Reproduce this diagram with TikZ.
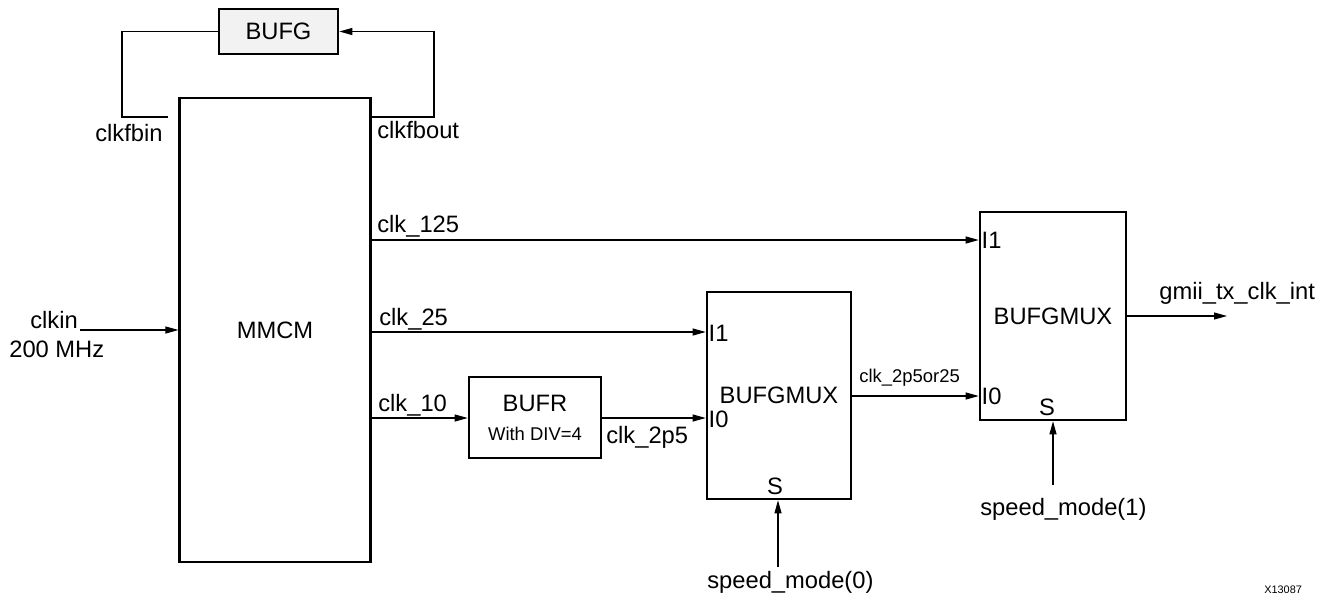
\documentclass[tikz,border=0pt]{standalone}
\usepackage{fontspec}
\setmainfont{Liberation Sans}
\usepackage{tikz}
\usetikzlibrary{arrows.meta,positioning}

\begin{document}
\begin{tikzpicture}[
    x=0.02cm, y=-0.02cm,
    font=\fontsize{13.5}{13.5}\selectfont,
    blk/.style={draw, line width=1.5pt, inner sep=0pt, align=center},
    wire/.style={line width=0.6pt},
    sig/.style={wire, -{Triangle[length=2.6mm,width=1.4mm]}},
    lbl/.style={inner sep=0pt, anchor=base west},
    port/.style={inner sep=1.5pt},
    small/.style={font=\fontsize{10.5}{12}\selectfont}
  ]
    \useasboundingbox (0,0) rectangle (1328,596);

    % blocks
    \node[blk, fill=black!5, minimum width=2.38cm, minimum height=0.9cm] (bufg) at (278.5,31.5) {BUFG};
    \node[blk, minimum width=3.81cm, minimum height=9.28cm] (mmcm) at (275,330) {MMCM};
    \node[blk, minimum width=2.64cm, minimum height=1.62cm] (bufr) at (535,417.5)
        {BUFR\\[3pt]{\fontsize{10.5}{12}\selectfont With DIV=4}};
    \node[blk, minimum width=2.88cm, minimum height=4.14cm] (mux1) at (779,395.5) {BUFGMUX};
    \node[blk, minimum width=2.92cm, minimum height=4.16cm] (mux2) at (1053,316) {BUFGMUX};

    % ports
    \node[port, anchor=west] (m1i1) at (mux1.west |- 0,333) {I1};
    \node[port, anchor=west] (m1i0) at (mux1.west |- 0,419) {I0};
    \node[inner sep=0pt, anchor=base] (m1s) at (775,494) {S};
    \node[port, anchor=west] (m2i1) at (mux2.west |- 0,240) {I1};
    \node[port, anchor=west] (m2i0) at (mux2.west |- 0,396) {I0};
    \node[inner sep=0pt, anchor=base] (m2s) at (1047,415) {S};

    % free ends
    \coordinate (fbin) at (168,117);
    \coordinate (fbinc) at (122,117);
    \coordinate (fbout) at (434,117);
    \coordinate (clkin) at (80,330);
    \coordinate (gout) at (1227,316);
    \coordinate (spd0) at (778,567);
    \coordinate (spd1) at (1053,485);

    % connections
    \draw[wire] (bufg.west) -| (fbinc) -- (fbin);
    \draw[sig] (mmcm.east |- fbout) -- (fbout) |- (bufg.east);
    \draw[sig] (clkin) -- (clkin -| mmcm.west);
    \draw[sig] (mmcm.east |- 0,240) -- (mux2.west |- 0,240);
    \draw[sig] (mmcm.east |- 0,332) -- (mux1.west |- 0,332);
    \draw[sig] (mmcm.east |- 0,418) -- (bufr.west |- 0,418);
    \draw[sig] (bufr.east |- 0,418) -- (mux1.west |- 0,418);
    \draw[sig] (mux1.east |- 0,396) -- (mux2.west |- 0,396);
    \draw[sig] (mux2.east |- gout) -- (gout);
    \draw[sig] (spd0) -- (spd0 |- mux1.south);
    \draw[sig] (spd1) -- (spd1 |- mux2.south);

    % labels
    \node[lbl] (tfbin) at (95,141) {clkfbin};
    \node[lbl] (tfbout) at (377,138) {clkfbout};
    \node[lbl] (tclkin) at (30,328) {clkin};
    \node[lbl] (tfreq) at (9,357) {200 MHz};
    \node[lbl] (t125) at (377,232) {clk\_125};
    \node[lbl] (t25) at (379,325) {clk\_25};
    \node[lbl] (t10) at (378,411) {clk\_10};
    \node[lbl] (t2p5) at (606,443) {clk\_2p5};
    \node[lbl, small] (tsel) at (859,382) {clk\_2p5or25};
    \node[lbl] (tout) at (1159,299) {gmii\_tx\_clk\_int};
    \node[lbl] (tsp0) at (707,588) {speed\_mode(0)};
    \node[lbl] (tsp1) at (980,515) {speed\_mode(1)};
    \node[lbl, font=\fontsize{6.2}{7}\selectfont] (tfig) at (1264,593) {X13087};
\end{tikzpicture}
\end{document}
